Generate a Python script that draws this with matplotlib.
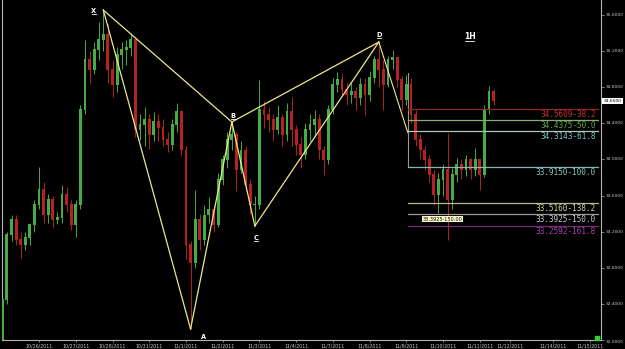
"""1H candlestick chart with XABCD harmonic pattern and fib levels."""

import matplotlib
matplotlib.use("Agg")
import matplotlib.pyplot as plt
import matplotlib.transforms as mtransforms
import numpy as np

# 3-hour bars (8 per trading day)
first_open = 32.00
closes = [
    32.44, 33.16, 33.33, 33.11, 33.05, 33.13, 33.27, 33.50, 33.66, 33.38,
    33.55, 33.33, 33.35, 33.61, 33.50, 33.27, 33.50, 34.55, 35.10, 34.99,
    35.21, 35.32, 35.38, 34.99, 34.83, 35.16, 35.21, 35.23, 35.32, 34.33,
    34.38, 34.44, 34.27, 34.42, 34.35, 34.22, 34.16, 34.38, 34.53, 34.10,
    33.05, 32.85, 33.33, 33.11, 33.38, 33.44, 33.27, 33.77, 33.99, 34.22,
    34.27, 33.88, 34.10, 33.72, 33.50, 33.50, 34.55, 34.49, 34.44, 34.33,
    34.46, 34.27, 34.53, 34.33, 34.16, 34.05, 34.33, 34.38, 34.44, 34.10,
    33.99, 34.55, 34.83, 34.88, 34.77, 34.71, 34.75, 34.68, 34.83, 34.71,
    34.90, 35.10, 34.99, 34.83, 35.10, 35.12, 34.88, 34.66, 34.83, 34.49,
    34.22, 34.10, 33.99, 33.83, 33.61, 33.77, 33.88, 33.55, 33.83, 33.94,
    33.88, 33.99, 33.88, 33.99, 33.83, 34.55, 34.75, 34.65,
]
highs = [
    32.50, 33.20, 33.38, 33.38, 33.20, 33.20, 33.30, 33.55, 33.92, 33.75,
    33.62, 33.60, 33.42, 33.72, 33.70, 33.55, 33.55, 34.60, 35.32, 35.20,
    35.30, 35.52, 35.66, 35.50, 35.10, 35.25, 35.30, 35.32, 35.40, 35.35,
    34.50, 34.58, 34.50, 34.52, 34.50, 34.45, 34.30, 34.45, 34.63, 34.55,
    34.15, 33.10, 33.66, 33.40, 33.50, 33.58, 33.50, 33.85, 34.05, 34.30,
    34.415, 34.30, 34.20, 34.15, 33.78, 33.60, 34.88, 34.65, 34.58, 34.50,
    34.60, 34.50, 34.62, 34.69, 34.38, 34.25, 34.40, 34.50, 34.55, 34.50,
    34.15, 34.60, 34.90, 34.97, 34.95, 34.85, 34.85, 34.80, 34.90, 34.90,
    34.98, 35.15, 35.30, 35.10, 35.15, 35.21, 35.15, 34.92, 34.93, 34.90,
    34.55, 34.28, 34.15, 34.05, 33.88, 33.85, 33.95, 34.29, 33.90, 34.02,
    34.00, 34.05, 34.02, 34.13, 34.00, 34.60, 34.81, 34.78,
]
lows = [
    31.98, 32.40, 33.10, 33.05, 32.91, 33.00, 33.05, 33.20, 33.45, 33.30,
    33.30, 33.25, 33.28, 33.30, 33.42, 33.22, 33.14, 33.45, 34.50, 34.85,
    34.95, 35.10, 35.20, 34.85, 34.69, 34.75, 35.00, 35.05, 35.15, 34.25,
    34.22, 34.15, 34.12, 34.20, 34.20, 34.15, 34.08, 34.10, 34.30, 34.05,
    32.90, 32.12, 32.80, 33.00, 33.05, 33.30, 33.20, 33.25, 33.72, 33.90,
    34.10, 33.65, 33.85, 33.65, 33.40, 33.263, 33.45, 34.35, 34.30, 34.20,
    34.28, 34.15, 34.20, 34.15, 34.05, 33.905, 34.00, 34.20, 34.25, 34.00,
    33.83, 33.95, 34.50, 34.75, 34.70, 34.60, 34.62, 34.55, 34.60, 34.49,
    34.65, 34.85, 34.80, 34.55, 34.80, 35.00, 34.80, 34.55, 34.60, 34.40,
    34.15, 34.00, 33.88, 33.75, 33.50, 33.41, 33.60, 33.11, 33.45, 33.75,
    33.78, 33.82, 33.78, 33.82, 33.66, 33.80, 34.50, 34.60,
]

# harmonic pattern pivots (bar index, price)
pattern_names = ["X", "A", "B", "C", "D"]
pattern_bars = [22, 41, 50, 55, 82]
pattern_prices = [35.655, 32.122, 34.415, 33.263, 35.30]
d_leg_end = (88.3, 34.30)

# fibonacci tool
fib_anchor_bar = 88.4
fib_anchor = (34.96, 33.915)
fib_levels = [34.5609, 34.4375, 34.3143, 33.9150, 33.5160, 33.3925, 33.2592]
fib_ratios = ["38.2", "50.0", "61.8", "100.0", "138.2", "150.0", "161.8"]
fib_line_colors = ["#8a2828", "#86b074", "#a6cbb8", "#8fb6b6", "#b8b894", "#9c9c9c", "#782878"]
fib_text_colors = ["#c83030", "#68a848", "#80c2c2", "#88c6c6", "#d4d4a4", "#cccccc", "#b040b0"]

date_ticks = [8, 16, 24, 32, 40, 48, 56, 64, 72, 80, 88, 96, 104, 110.5, 120, 128]
date_labels = [
    "10/26/2011", "10/27/2011", "10/28/2011", "10/31/2011", "11/1/2011", "11/2/2011",
    "11/3/2011", "11/4/2011", "11/7/2011", "11/8/2011", "11/9/2011", "11/10/2011",
    "11/11/2011", "11/12/2011", "11/14/2011", "11/15/2011",
]
price_ticks = [32.0, 32.4, 32.8, 33.2, 33.6, 34.0, 34.4, 34.8, 35.2, 35.6]
last_price = 34.65


def underlined(ax, xy, s, offset, size, half_w):
    # letter with a short bar underneath, like the platform's labels
    ax.annotate(s, xy, xytext=offset, textcoords="offset points", ha="center",
                va="baseline", color="white", fontsize=size, fontweight="bold", zorder=6)
    shift = mtransforms.ScaledTranslation(offset[0] / 72, (offset[1] - 1.0) / 72,
                                          ax.figure.dpi_scale_trans)
    ax.plot([xy[0] - half_w, xy[0] + half_w], [xy[1], xy[1]], color="white", lw=0.6,
            transform=ax.transData + shift, zorder=6)


fig = plt.figure(figsize=(6.25, 3.49), dpi=100, facecolor="black")
ax = fig.add_axes([2 / 625, 9 / 349, 599 / 625, 340 / 349], facecolor="black")

closes = np.array(closes)
opens = np.concatenate([[first_open], closes[:-1]])
x = np.arange(len(closes))
up = closes >= opens
cols = np.where(up, "#46ac46", "#b42222")

ax.vlines(x, lows, highs, colors=cols, lw=0.7, zorder=2)
ax.bar(x, np.abs(closes - opens) + 0.01, bottom=np.minimum(opens, closes),
       width=0.62, color=cols, lw=0, zorder=3)

# pattern legs
yel = "#eee88a"
legs = [(0, 1), (1, 2), (2, 3), (3, 4), (0, 2), (2, 4)]
for a, b in legs:
    ax.plot([pattern_bars[a], pattern_bars[b]], [pattern_prices[a], pattern_prices[b]],
            color=yel, lw=0.9, zorder=4)
ax.plot([pattern_bars[4], d_leg_end[0]], [pattern_prices[4], d_leg_end[1]],
        color=yel, lw=0.8, zorder=4)

offsets = {"X": (-7, -2), "A": (9, -7), "B": (1, 3), "C": (1, -10), "D": (0, 4)}
for name, xb, pr in zip(pattern_names, pattern_bars, pattern_prices):
    underlined(ax, (xb, pr), name, offsets[name], 4.8, 0.45)

# fib levels
ax.plot([fib_anchor_bar, fib_anchor_bar], fib_anchor, color="#9a9a80", lw=0.8, zorder=4)
for lvl, rat, lc, tc in zip(fib_levels, fib_ratios, fib_line_colors, fib_text_colors):
    ax.plot([fib_anchor_bar, 129.8], [lvl, lvl], color=lc, lw=0.9, zorder=4)
    ax.text(129.2, lvl - 0.01, f"{lvl:.4f}-{rat}", color=tc, fontsize=5.6,
            family="DejaVu Sans Mono", ha="right", va="top", zorder=5)

ax.text(91.6, 33.34, "33.3925-150.00", color="black", fontsize=3.6, ha="left",
        va="center", zorder=6,
        bbox=dict(boxstyle="square,pad=0.15", fc="#fff8c8", ec="none"))

underlined(ax, (101.8, 35.33), "1H", (0, 0), 5.5, 1.0)

ax.plot([129.6], [32.02], marker="s", ms=2.5, color="#30d030", clip_on=False, zorder=6)

# axes styling
ax.set_xlim(-0.07, 130.4)
ax.set_ylim(32.0, 35.766)
ax.spines["top"].set_visible(False)
for side in ["left", "right", "bottom"]:
    ax.spines[side].set_color("#b4b4b4")
    ax.spines[side].set_linewidth(0.8)

ax.yaxis.tick_right()
ax.set_yticks(price_ticks)
ax.set_yticklabels([f"{p:.4f}" for p in price_ticks])
ax.set_xticks(date_ticks)
ax.set_xticklabels(date_labels)
ax.tick_params(axis="y", colors="#b4b4b4", labelcolor="#c8c8c8", labelsize=3.2,
               length=2, width=0.5, pad=1.2)
ax.tick_params(axis="x", colors="#b4b4b4", labelcolor="#c8c8c8", labelsize=3.4,
               length=1.5, width=0.5, pad=0.8)
for lab in ax.get_yticklabels():
    lab.set_va("center")
ax.get_yticklabels()[0].set_va("top")

ax.text(1.004, last_price, f"{last_price:.4f}", transform=ax.get_yaxis_transform(),
        color="black", fontsize=3.2, ha="left", va="center",
        bbox=dict(boxstyle="square,pad=0.25", fc="white", ec="none"), clip_on=False)

fig.savefig("out.png", dpi=100, facecolor="black")
